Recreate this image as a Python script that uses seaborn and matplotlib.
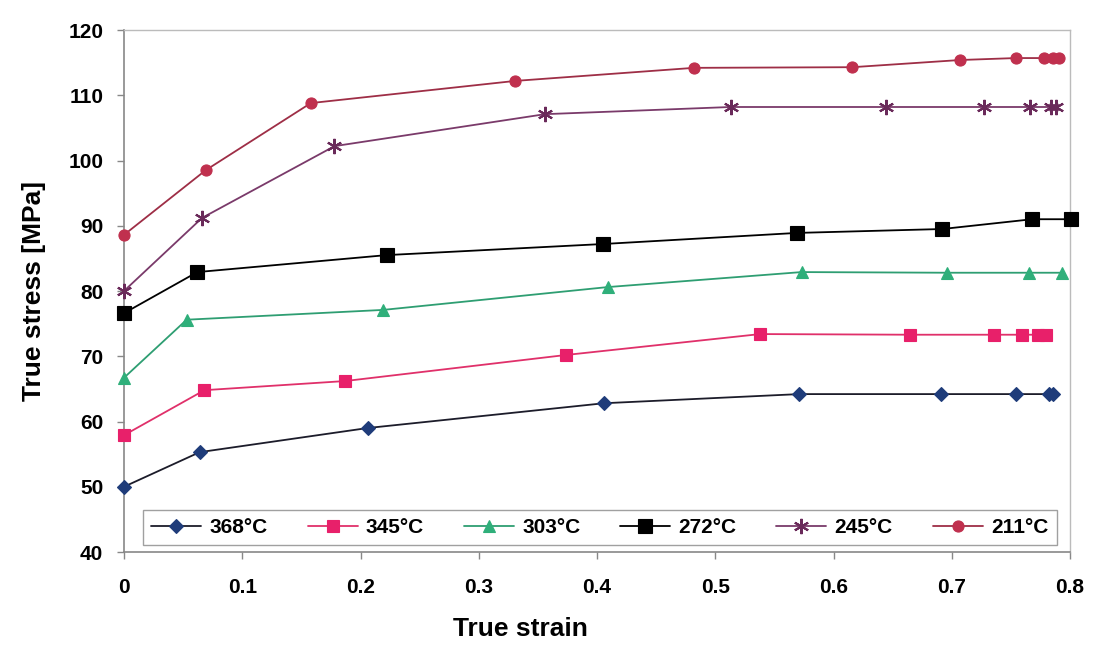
import matplotlib
matplotlib.use("Agg")
import matplotlib.pyplot as plt
import seaborn as sns
import pandas as pd
from matplotlib import font_manager

sns.set_theme(style="white")
fams = [f.name for f in font_manager.fontManager.ttflist]
narrow = "Liberation Sans Narrow" if "Liberation Sans Narrow" in fams else "Liberation Sans"
plt.rcParams['font.family'] = [narrow, 'DejaVu Sans']
plt.rcParams['text.color'] = 'black'
plt.rcParams['axes.labelcolor'] = 'black'
plt.rcParams['xtick.labelcolor'] = 'black'
plt.rcParams['ytick.labelcolor'] = 'black'

# ---- data ----
labels = ["368°C", "345°C", "303°C", "272°C", "245°C", "211°C"]

strain_368 = [0.0, 0.064, 0.206, 0.406, 0.571, 0.691, 0.754, 0.782, 0.786]
stress_368 = [50.0, 55.3, 59.0, 62.8, 64.2, 64.2, 64.2, 64.2, 64.2]

strain_345 = [0.0, 0.068, 0.187, 0.374, 0.538, 0.665, 0.736, 0.759, 0.773, 0.780]
stress_345 = [57.9, 64.8, 66.2, 70.2, 73.4, 73.3, 73.3, 73.3, 73.3, 73.3]

strain_303 = [0.0, 0.053, 0.219, 0.409, 0.573, 0.696, 0.765, 0.793]
stress_303 = [66.7, 75.6, 77.1, 80.6, 82.9, 82.8, 82.8, 82.8]

strain_272 = [0.0, 0.062, 0.222, 0.405, 0.569, 0.692, 0.768, 0.801]
stress_272 = [76.6, 82.9, 85.5, 87.2, 88.9, 89.5, 91.0, 91.0]

strain_245 = [0.0, 0.066, 0.178, 0.356, 0.513, 0.644, 0.727, 0.766, 0.784, 0.788]
stress_245 = [80.0, 91.2, 102.2, 107.1, 108.2, 108.2, 108.2, 108.2, 108.2, 108.2]

strain_211 = [0.0, 0.069, 0.158, 0.331, 0.482, 0.616, 0.707, 0.754, 0.778, 0.786, 0.791]
stress_211 = [88.6, 98.5, 108.8, 112.2, 114.2, 114.3, 115.4, 115.7, 115.7, 115.7, 115.7]

x_ticks = [0, 0.1, 0.2, 0.3, 0.4, 0.5, 0.6, 0.7, 0.8]
x_tick_labels = ["0", "0.1", "0.2", "0.3", "0.4", "0.5", "0.6", "0.7", "0.8"]
y_ticks = [40, 50, 60, 70, 80, 90, 100, 110, 120]

series = [
    (labels[0], strain_368, stress_368, "#1c1c2a", "#1F3C7A", "D", 7),
    (labels[1], strain_345, stress_345, "#E0306A", "#E8206A", "s", 8),
    (labels[2], strain_303, stress_303, "#2E9E72", "#2FAF7A", "^", 9),
    (labels[3], strain_272, stress_272, "#000000", "#000000", "s", 10),
    (labels[4], strain_245, stress_245, "#7A3A6A", "#6A2A5A", (6, 2, 0), 11),
    (labels[5], strain_211, stress_211, "#9E2E46", "#C0304E", "o", 8),
]

fig = plt.figure(figsize=(10.94, 6.49), dpi=100)
ax = fig.add_axes([124 / 1094, 1 - 552 / 649, (1070 - 124) / 1094, (552 - 30) / 649])

for lab, xs, ys, lc, mc, mk, ms in series:
    df = pd.DataFrame({"strain": xs, "stress": ys})
    sns.lineplot(data=df, x="strain", y="stress", ax=ax, estimator=None, sort=False,
                 color=lc, linewidth=1.3, marker=mk, markersize=ms,
                 markerfacecolor=mc, markeredgecolor=mc,
                 markeredgewidth=1.5 if mk == (6, 2, 0) else 0.8,
                 label=lab, clip_on=False, zorder=3)

ax.set_xlim(0, 0.8)
ax.set_ylim(40, 120)
ax.set_xticks(x_ticks)
ax.set_xticklabels(x_tick_labels)
ax.set_yticks(y_ticks)
ax.tick_params(axis="both", which="major", labelsize=15, length=5, width=1,
               color="#888888", direction="out", bottom=True, left=True)
ax.tick_params(axis="x", pad=14)
ax.tick_params(axis="y", pad=10)
for lbl in ax.get_xticklabels() + ax.get_yticklabels():
    lbl.set_fontweight("bold")

ax.set_xlabel("True strain", fontsize=19, fontweight="bold")
ax.xaxis.set_label_coords(0.419, -0.125)
ax.set_ylabel("True stress [MPa]", fontsize=19, fontweight="bold")
ax.yaxis.set_label_coords(-0.082, 0.5)

for s in ["top", "right"]:
    ax.spines[s].set_color("#bbbbbb")
    ax.spines[s].set_linewidth(1.0)
for s in ["left", "bottom"]:
    ax.spines[s].set_color("#888888")
    ax.spines[s].set_linewidth(1.2)
ax.grid(False)

leg = ax.legend(loc="lower left", bbox_to_anchor=(0.02, 0.013, 0.966, 0.08), mode="expand",
                ncol=6, frameon=True, fancybox=False, edgecolor="#888888",
                prop={"size": 15, "weight": "bold"}, handlelength=2.4, handletextpad=0.4,
                borderaxespad=0, columnspacing=1.0, borderpad=0.4)
leg.get_frame().set_linewidth(1.0)

fig.savefig("out.png", dpi=100, facecolor="white")
